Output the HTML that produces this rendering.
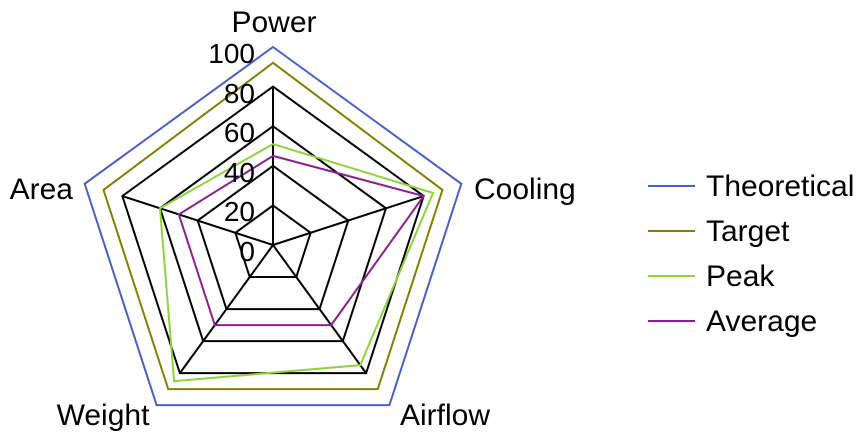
<!DOCTYPE html>
<html><head><style>body{margin:0;background:#fff}</style></head><body>
<svg width="858" height="443" viewBox="0 0 858 443" xmlns="http://www.w3.org/2000/svg" font-family="Liberation Sans, sans-serif" font-size="30">
<g id="grid" fill="none" stroke="#000" stroke-width="2"></g>
<g id="data" fill="none" stroke-width="2"></g>
<g fill="#000">
<text x="274" y="32" text-anchor="middle">Power</text>
<text x="474" y="199">Cooling</text>
<text x="73" y="199" text-anchor="end">Area</text>
<text x="103" y="425" text-anchor="middle">Weight</text>
<text x="445" y="425" text-anchor="middle">Airflow</text>
<g text-anchor="end" font-size="28">
<text x="255" y="63">100</text><text x="255" y="103">80</text><text x="255" y="142">60</text><text x="255" y="182">40</text><text x="255" y="221">20</text><text x="255" y="261">0</text>
</g>
<text x="706" y="196">Theoretical</text>
<text x="706" y="241">Target</text>
<text x="706" y="286">Peak</text>
<text x="706" y="331">Average</text>
</g>
<g stroke-width="2">
<line x1="648" y1="186" x2="695" y2="186" stroke="#4a5fc0"/>
<line x1="648" y1="231" x2="695" y2="231" stroke="#808000"/>
<line x1="648" y1="276" x2="695" y2="276" stroke="#8fd13f"/>
<line x1="648" y1="321" x2="695" y2="321" stroke="#8b1f8b"/>
</g>
<script>
var cx=273,cy=245,R=198,ns="http://www.w3.org/2000/svg";
function pt(i,v){var a=-Math.PI/2+i*2*Math.PI/5;return [cx+R*v*Math.cos(a),cy+R*v*Math.sin(a)];}
function poly(g,vals,col){var p=document.createElementNS(ns,"polygon");p.setAttribute("points",vals.map(function(v,i){return pt(i,v).join(",")}).join(" "));if(col)p.setAttribute("stroke",col);g.appendChild(p);}
var g=document.getElementById("grid");
[0.2,0.4,0.6,0.8].forEach(function(r){poly(g,[r,r,r,r,r]);});
for(var i=0;i<5;i++){var l=document.createElementNS(ns,"line"),q=pt(i,0.8);l.setAttribute("x1",cx);l.setAttribute("y1",cy);l.setAttribute("x2",q[0]);l.setAttribute("y2",q[1]);g.appendChild(l);}
var d=document.getElementById("data");
poly(d,[1,1,1,1,1],"#4a5fc0");
poly(d,[0.92,0.9,0.9,0.9,0.9],"#808000");
poly(d,[0.51,0.85,0.75,0.85,0.6],"#8fd13f");
poly(d,[0.45,0.8,0.5,0.5,0.5],"#8b1f8b");
</script>
</svg>
</body></html>
